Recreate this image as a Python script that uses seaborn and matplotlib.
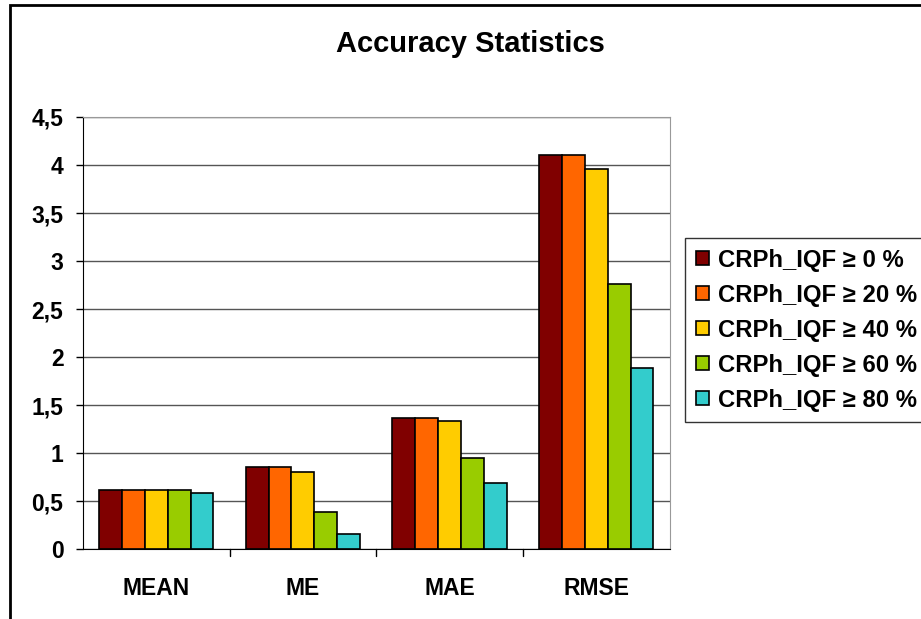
import pandas as pd
import seaborn as sns
import matplotlib.pyplot as plt
from matplotlib.patches import Rectangle

categories = ["MEAN", "ME", "MAE", "RMSE"]
series = ["CRPh_IQF ≥ 0 %", "CRPh_IQF ≥ 20 %", "CRPh_IQF ≥ 40 %",
          "CRPh_IQF ≥ 60 %", "CRPh_IQF ≥ 80 %"]
iqf0 = [0.615, 0.85, 1.37, 4.10]
iqf20 = [0.615, 0.85, 1.37, 4.10]
iqf40 = [0.615, 0.805, 1.33, 3.96]
iqf60 = [0.615, 0.39, 0.945, 2.76]
iqf80 = [0.58, 0.155, 0.69, 1.89]
colors = ["#800000", "#FF6600", "#FFCC00", "#99CC00", "#33CCCC"]

rows = []
for name, vals in zip(series, [iqf0, iqf20, iqf40, iqf60, iqf80]):
    for cat, v in zip(categories, vals):
        rows.append({"stat": cat, "series": name, "value": v})
data = pd.DataFrame(rows)

sns.set_style("white")
plt.rcParams["font.family"] = ["Liberation Sans", "DejaVu Sans"]
plt.rcParams["text.color"] = "black"
plt.rcParams["xtick.color"] = "black"
plt.rcParams["ytick.color"] = "black"

fig = plt.figure(figsize=(9.21, 6.19), dpi=100)
ax = fig.add_axes([0.090, 0.113, 0.637, 0.698])
sns.barplot(data=data, x="stat", y="value", hue="series", order=categories,
            hue_order=series, palette=colors, width=0.78, saturation=1,
            edgecolor="black", linewidth=1.2, ax=ax)

ax.set_ylim(0, 4.5)
ax.set_xlim(-0.5, 3.5)
ax.set_yticks([i * 0.5 for i in range(10)])
ax.set_yticklabels(["0", "0,5", "1", "1,5", "2", "2,5", "3", "3,5", "4", "4,5"],
                   fontsize=16.5, fontweight="bold")
ax.set_xticks([0, 1, 2, 3])
ax.set_xticklabels(categories, fontsize=16.5, fontweight="bold")
ax.tick_params(axis="x", length=0, pad=20)
ax.tick_params(axis="y", length=5, width=1, pad=9, left=True,
               direction="out", color="black")
for x in [0.5, 1.5, 2.5]:
    ax.plot([x, x], [0, -0.07], color="black", lw=1, clip_on=False)
ax.set_xlabel("")
ax.set_ylabel("")
ax.yaxis.grid(True, color="#555555", lw=1)
ax.set_axisbelow(True)
for s in ["right", "top"]:
    ax.spines[s].set_color("#999999")
ax.spines["left"].set_color("black")
ax.spines["bottom"].set_color("black")

fig.text(470 / 921, 1 - 44 / 619, "Accuracy Statistics", fontsize=21,
         fontweight="bold", ha="center", va="center")

leg = ax.legend(loc="upper left", bbox_to_anchor=(685 / 921, 1 - 238 / 619),
                bbox_transform=fig.transFigure, frameon=True,
                fancybox=False, edgecolor="black", handlelength=0.55,
                handleheight=0.55, handletextpad=0.4, labelspacing=0.5,
                borderpad=0.45, borderaxespad=0,
                prop={"size": 17.2, "weight": "bold"})
leg.get_frame().set_linewidth(1)

fig.patches.append(Rectangle((10 / 921, -0.1), 1.0, 1.1 - 5 / 619,
                             transform=fig.transFigure, fill=False,
                             edgecolor="black", lw=2))

plt.savefig("out.png", dpi=100)
plt.close()
